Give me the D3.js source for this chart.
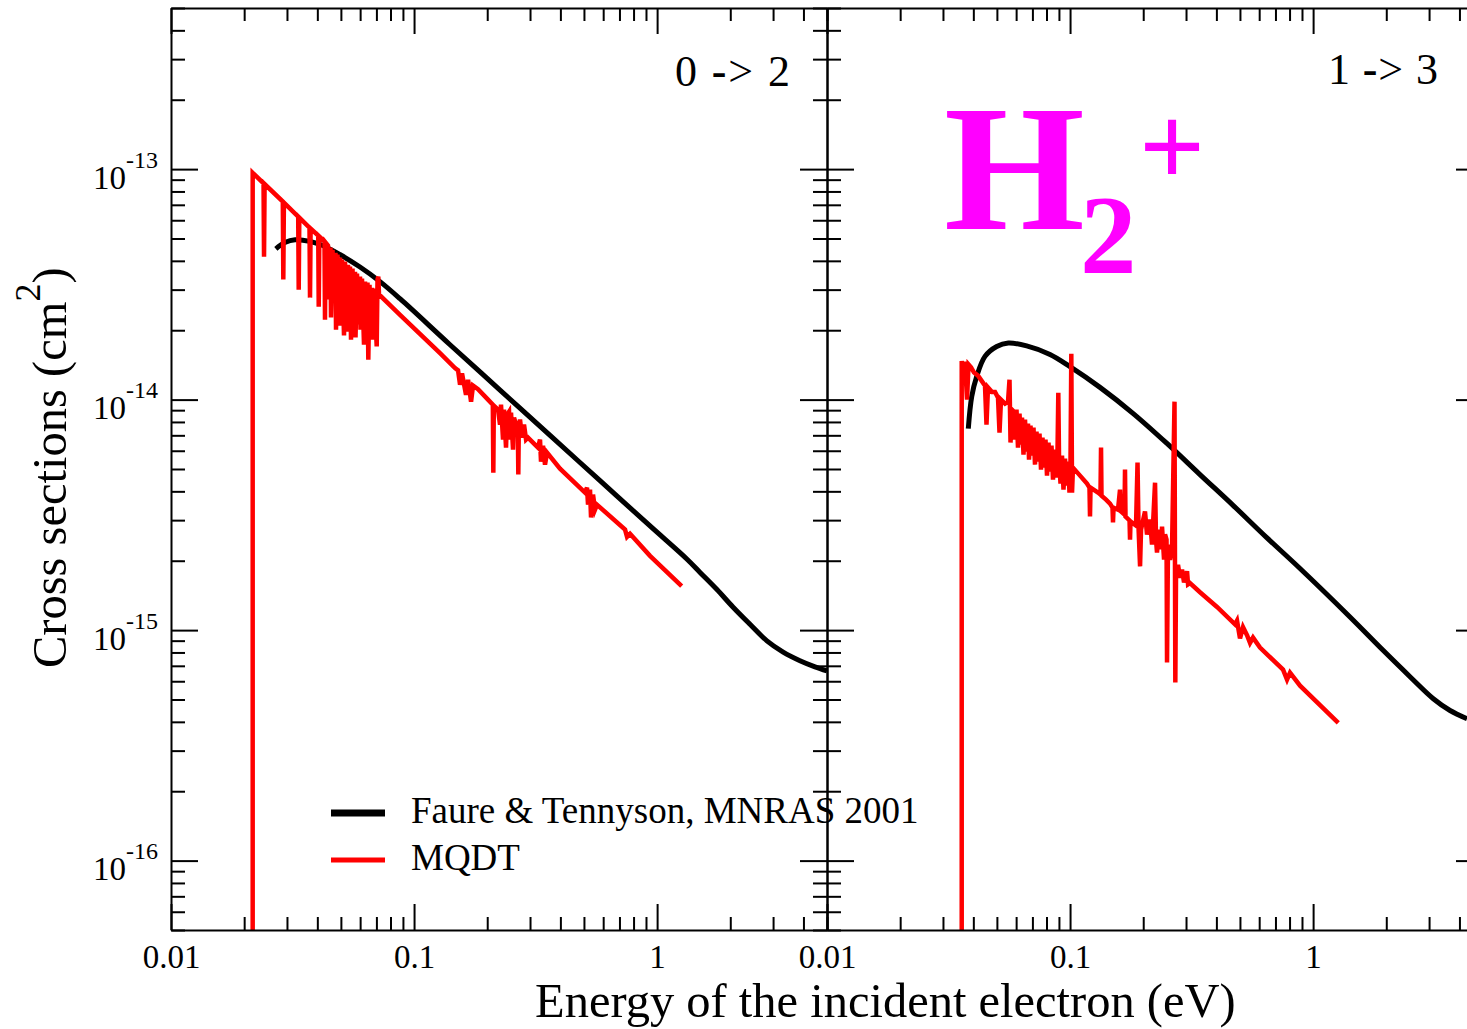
<!DOCTYPE html>
<meta charset="utf-8">
<style>
body { margin: 0; background: #fff; }
svg { display: block; background: #fff; font-family: "Liberation Serif", "Times New Roman", serif; }
.axis path, .axis line { stroke: #000; stroke-width: 2px; fill: none; }
.axis text { font-family: "Liberation Serif", serif; font-size: 33px; fill: #000; }
.curve { fill: none; stroke-linejoin: miter; }
.title { font-size: 48.5px; fill: #000; }
.legend text { font-size: 37px; fill: #000; }
</style>
<svg width="1467" height="1029"></svg>
<script src="https://d3js.org/d3.v7.min.js"></script>
<script>
// axis ranges and labels
var energyDomain = [0.01, 5];
var sigmaDomain = [5e-17, 5e-13];
var energyLabels = [0.01, 0.1, 1];
var energyLabelText = ["0.01", "0.1", "1"];
var sigmaLabels = [1e-16, 1e-15, 1e-14, 1e-13];
var sigmaLabelExp = ["-16", "-15", "-14", "-13"];
var transitions = ["0 -> 2", "1 -> 3"];
var seriesNames = ["Faure & Tennyson, MNRAS 2001", "MQDT"];

// [energy (eV), cross section (cm^2)]
var faure02 = [[0.0270,4.51e-14],[0.0294,4.80e-14],[0.0324,4.94e-14],[0.0373,4.86e-14],[0.0421,4.66e-14],
  [0.0495,4.26e-14],[0.05993,3.76e-14],[0.07243,3.25e-14],[0.08754,2.74e-14],[0.1406,1.73e-14],
  [0.2258,1.10e-14],[0.3627,6.99e-15],[0.5822,4.45e-15],[0.9350,2.83e-15],[1.328,2.03e-15],
  [1.502,1.78e-15],[1.763,1.50e-15],[2.05,1.26e-15],[2.41,1.06e-15],[2.83,8.98e-16],[3.30,8.03e-16],
  [3.87,7.37e-16],[4.463,6.93e-16],[5.0,6.65e-16]];

var mqdt02 = [[0.02168,1e-18],[0.02168,9.63e-14],
  [0.02403,8.68e-14],[0.02414,4.17e-14],[0.02427,8.61e-14],
  [0.02884,7.23e-14],[0.02898,3.32e-14],[0.02914,7.16e-14],
  [0.03337,6.22e-14],[0.03353,3.00e-14],[0.03372,6.16e-14],
  [0.03714,5.57e-14],[0.03732,2.77e-14],[0.03753,5.52e-14],
  [0.04034,5.15e-14],[0.04053,2.53e-14],[0.04076,5.10e-14],
  [0.04281,4.85e-14],[0.04301,2.22e-14],[0.04326,4.80e-14],
  [0.04425,4.66e-14],[0.04467,2.72e-14],[0.04531,4.57e-14],[0.04553,2.27e-14],[0.04618,4.47e-14],
  [0.04684,3.00e-14],[0.04751,4.34e-14],[0.04774,2.01e-14],[0.04842,4.26e-14],[0.04912,2.72e-14],
  [0.04958,4.13e-14],[0.04982,2.09e-14],[0.05053,4.05e-14],[0.05150,1.90e-14],[0.05199,3.97e-14],
  [0.05273,2.46e-14],[0.05349,3.85e-14],[0.05374,1.97e-14],[0.05451,3.78e-14],[0.05503,1.82e-14],
  [0.05582,3.70e-14],[0.05662,2.22e-14],[0.05716,3.59e-14],[0.05743,1.86e-14],[0.05825,3.52e-14],
  [0.05908,2.12e-14],[0.05993,3.42e-14],[0.06021,2.01e-14],[0.06107,3.35e-14],[0.06224,1.73e-14],
  [0.06284,3.25e-14],[0.06373,2.22e-14],[0.06434,3.22e-14],[0.06483,1.49e-14],[0.06557,3.15e-14],
  [0.06651,2.01e-14],[0.06714,3.06e-14],[0.06746,1.82e-14],[0.06842,3.03e-14],[0.06940,2.22e-14],
  [0.07020,1.70e-14],[0.07073,3.32e-14],[0.07127,3.42e-14],[0.07174,2.86e-14],
  [0.08754,2.33e-14],[0.1279,1.59e-14],[0.1474,1.37e-14],[0.1517,1.34e-14],[0.1546,1.16e-14],
  [0.1575,1.30e-14],[0.1636,1.05e-14],[0.1668,1.22e-14],[0.1716,9.80e-15],[0.1748,1.15e-14],
  [0.1833,1.11e-14],[0.2015,1.00e-14],
  [0.2109,9.51e-15],[0.2119,4.82e-15],[0.2129,9.42e-15],[0.2216,9.05e-15],[0.2258,7.79e-15],
  [0.2279,9.51e-15],[0.2323,6.71e-15],[0.2345,9.05e-15],[0.2390,6.19e-15],[0.2413,8.61e-15],
  [0.2459,8.87e-15],[0.2482,6.71e-15],[0.2506,8.78e-15],[0.2554,6.07e-15],[0.2578,8.36e-15],
  [0.2627,7.79e-15],[0.2673,7.64e-15],[0.2685,4.73e-15],[0.2698,7.56e-15],[0.2729,8.19e-15],
  [0.2781,6.84e-15],[0.2834,7.79e-15],[0.2889,6.71e-15],[0.2944,6.84e-15],
  [0.3145,6.38e-15],[0.3236,6.19e-15],[0.3298,6.71e-15],[0.3329,5.38e-15],[0.3393,6.31e-15],
  [0.3458,5.22e-15],[0.3524,5.89e-15],[0.3986,5.02e-15],
  [0.5051,3.95e-15],[0.5148,4.15e-15],[0.5197,3.50e-15],[0.5296,4.07e-15],[0.5347,3.08e-15],
  [0.5449,3.87e-15],[0.5553,3.33e-15],[0.5659,3.50e-15],
  [0.7380,2.73e-15],[0.7521,2.54e-15],[0.7738,2.62e-15],[0.9350,2.10e-15],[1.262,1.55e-15]];

var faure13 = [[0.03814,7.48e-15],[0.03939,1.03e-14],[0.04129,1.26e-14],[0.04467,1.54e-14],[0.04991,1.70e-14],
  [0.05571,1.76e-14],[0.06631,1.71e-14],[0.08270,1.57e-14],[0.09995,1.39e-14],[0.1328,1.13e-14],
  [0.1820,8.70e-15],[0.2498,6.47e-15],[0.3425,4.73e-15],[0.4696,3.47e-15],[0.6444,2.52e-15],
  [0.8834,1.85e-15],[1.418,1.14e-15],[1.945,8.15e-16],[2.504,6.28e-16],[3.123,5.04e-16],
  [3.659,4.48e-16],[4.298,4.13e-16]];

var mqdt13 = [[0.03583,1e-18],[0.03583,1.47e-14],[0.03645,1.32e-14],[0.03697,1.46e-14],[0.03768,1.00e-14],
  [0.03822,1.42e-14],[0.03913,1.38e-14],[0.04026,1.31e-14],[0.04182,1.27e-14],[0.04343,1.20e-14],
  [0.04467,1.15e-14],[0.04531,7.79e-15],[0.04596,1.13e-14],[0.04774,1.08e-14],[0.04912,1.08e-14],
  [0.05053,1.02e-14],[0.05126,7.19e-15],[0.05199,1.00e-14],[0.05400,9.61e-15],[0.05556,9.80e-15],
  [0.05635,1.22e-14],[0.05689,6.51e-15],[0.05770,9.05e-15],
  [0.05881,8.87e-15],[0.05937,6.71e-15],[0.06021,9.05e-15],[0.06107,6.19e-15],[0.06195,8.70e-15],
  [0.06284,6.38e-15],[0.06343,8.36e-15],[0.06434,5.77e-15],[0.06526,8.19e-15],[0.06619,5.95e-15],
  [0.06714,7.87e-15],[0.06778,5.49e-15],[0.06875,7.71e-15],[0.06973,5.71e-15],[0.07073,7.56e-15],
  [0.07174,5.22e-15],[0.07277,7.26e-15],[0.07381,5.38e-15],[0.07487,7.12e-15],[0.07594,4.97e-15],
  [0.07702,6.84e-15],[0.07813,5.07e-15],[0.07925,6.71e-15],[0.08038,4.68e-15],[0.08153,6.51e-15],
  [0.08270,4.87e-15],[0.08388,6.31e-15],[0.08509,4.50e-15],[0.08630,6.07e-15],[0.08754,4.59e-15],
  [0.08879,5.95e-15],[0.08947,1.07e-14],[0.09007,5.71e-15],[0.09135,4.32e-15],[0.09266,5.71e-15],
  [0.09398,4.07e-15],[0.09533,5.55e-15],[0.09669,4.24e-15],[0.09808,5.38e-15],[0.09948,3.95e-15],
  [0.1004,5.22e-15],[0.1012,1.58e-14],[0.1019,3.95e-15],[0.1028,5.07e-15],
  [0.1099,4.68e-15],[0.1174,4.32e-15],[0.1202,4.15e-15],[0.1208,3.11e-15],[0.1214,4.15e-15],
  [0.1303,3.95e-15],[0.1334,3.87e-15],[0.1341,6.19e-15],[0.1347,3.83e-15],[0.1406,3.68e-15],
  [0.1460,3.54e-15],[0.1495,3.40e-15],[0.1502,2.93e-15],[0.1510,3.40e-15],[0.1575,3.33e-15],
  [0.1605,4.07e-15],[0.1620,3.27e-15],[0.1675,3.17e-15],[0.1683,4.97e-15],[0.1691,3.11e-15],
  [0.1757,2.99e-15],[0.1765,2.47e-15],[0.1773,2.96e-15],[0.1868,2.84e-15],[0.1895,5.33e-15],
  [0.1913,2.78e-15],[0.1941,1.89e-15],[0.1959,2.73e-15],[0.2034,3.27e-15],[0.2073,2.60e-15],
  [0.2133,3.02e-15],[0.2174,2.35e-15],[0.2237,4.36e-15],[0.2258,2.47e-15],[0.2279,2.17e-15],
  [0.2323,2.73e-15],[0.2367,2.24e-15],[0.2390,2.81e-15],[0.2436,2.02e-15],[0.2459,2.60e-15],
  [0.2494,2.47e-15],[0.2506,7.23e-16],[0.2529,2.35e-15],[0.2578,2.02e-15],[0.2627,2.24e-15],
  [0.2690,9.80e-15],[0.2711,5.92e-16],[0.2729,1.74e-15],[0.2781,1.92e-15],[0.2834,1.69e-15],
  [0.2889,1.83e-15],[0.2944,1.61e-15],[0.3029,1.80e-15],[0.3058,1.58e-15],[0.3115,1.60e-15],
  [0.3425,1.46e-15],[0.4024,1.26e-15],[0.4772,1.06e-15],[0.4863,1.10e-15],[0.5003,9.20e-16],
  [0.5148,1.03e-15],[0.5347,9.50e-16],[0.5501,8.80e-16],[0.5659,9.28e-16],[0.6046,8.40e-16],
  [0.7521,6.74e-16],[0.7811,6.10e-16],[0.8036,6.54e-16],[0.8834,5.74e-16],[1.269,3.96e-16]];

var svg = d3.select("svg");
var plotTop = 8, plotBottom = 930, panelWidth = 656, firstLeft = 171;

var y = d3.scaleLog().domain(sigmaDomain).range([plotBottom, plotTop]);

var panels = [
  {left: firstLeft, faure: faure02, mqdt: mqdt02, label: transitions[0], labelStart: 675, labelLen: 115, labelBase: 86},
  {left: firstLeft + panelWidth, faure: faure13, mqdt: mqdt13, label: transitions[1], labelStart: 1328, labelLen: 110, labelBase: 84}
];

function isDecade(d) {
  var l = Math.log10(d);
  return Math.abs(l - Math.round(l)) < 1e-9;
}
function findIndex(list, d) {
  for (var k = 0; k < list.length; k++) {
    if (Math.abs(list[k] - d) / list[k] < 1e-9) return k;
  }
  return -1;
}

panels.forEach(function(p, i) {
  var right = p.left + panelWidth;
  var x = d3.scaleLog().domain(energyDomain).range([p.left, right]);

  svg.append("clipPath").attr("id", "clip" + i)
    .append("rect")
    .attr("x", p.left).attr("y", plotTop)
    .attr("width", panelWidth).attr("height", plotBottom - plotTop);

  var lineLin = d3.line()
    .x(function(d) { return x(d[0]); })
    .y(function(d) { return y(d[1]); });
  var lineSmooth = d3.line()
    .curve(d3.curveCatmullRom.alpha(0.5))
    .x(function(d) { return x(d[0]); })
    .y(function(d) { return y(d[1]); });

  var g = svg.append("g").attr("clip-path", "url(#clip" + i + ")");
  g.append("path").datum(p.faure)
    .attr("class", "curve")
    .attr("stroke", "#000")
    .attr("stroke-width", 5)
    .attr("d", lineSmooth);
  g.append("path").datum(p.mqdt)
    .attr("class", "curve")
    .attr("stroke", "#ff0000")
    .attr("stroke-width", 4.5)
    .attr("d", lineLin);

  var xt = x.ticks();
  var yt = y.ticks();

  var bottomAxis = svg.append("g").attr("class", "axis")
    .attr("transform", "translate(0," + plotBottom + ")")
    .call(d3.axisBottom(x).tickValues(xt).tickSizeInner(-13).tickSizeOuter(0).tickPadding(15)
      .tickFormat(function(d) {
        var k = findIndex(energyLabels, d);
        return k >= 0 ? energyLabelText[k] : "";
      }));
  bottomAxis.selectAll(".tick").filter(isDecade).select("line").attr("y2", -26);

  var topAxis = svg.append("g").attr("class", "axis")
    .attr("transform", "translate(0," + plotTop + ")")
    .call(d3.axisTop(x).tickValues(xt).tickSizeInner(-13).tickSizeOuter(0).tickFormat(""));
  topAxis.selectAll(".tick").filter(isDecade).select("line").attr("y2", 26);

  var leftAxis = svg.append("g").attr("class", "axis")
    .attr("transform", "translate(" + p.left + ",0)")
    .call(d3.axisLeft(y).tickValues(yt).tickSizeInner(-14).tickSizeOuter(0).tickFormat(""));
  leftAxis.selectAll(".tick").filter(isDecade).select("line").attr("x2", 27);

  var rightAxis = svg.append("g").attr("class", "axis")
    .attr("transform", "translate(" + right + ",0)")
    .call(d3.axisRight(y).tickValues(yt).tickSizeInner(-14).tickSizeOuter(0).tickFormat(""));
  rightAxis.selectAll(".tick").filter(isDecade).select("line").attr("x2", -27);

  if (i === 0) {
    leftAxis.selectAll(".tick").filter(function(d) { return findIndex(sigmaLabels, d) >= 0; })
      .each(function(d) {
        var t = d3.select(this).append("text")
          .attr("x", -13).attr("y", 19)
          .attr("text-anchor", "end");
        t.append("tspan").text("10");
        t.append("tspan").attr("dy", -21).style("font-size", "24px")
          .text(sigmaLabelExp[findIndex(sigmaLabels, d)]);
      });
  }

  // transition label, the dash is drawn heavier like in the original
  var parts = p.label.split("-");
  var lab = svg.append("text")
    .attr("x", p.labelStart).attr("y", p.labelBase)
    .attr("textLength", p.labelLen).attr("lengthAdjust", "spacing")
    .style("font-size", "44px");
  lab.append("tspan").text(parts[0]);
  lab.append("tspan").style("font-weight", "bold").text("-");
  lab.append("tspan").text(parts[1]);
});

// axis titles
svg.append("text").attr("class", "title")
  .attr("x", 535).attr("y", 1017)
  .text("Energy of the incident electron (eV)");

var ytitle = svg.append("text").attr("class", "title")
  .attr("transform", "translate(66,668) rotate(-90)");
ytitle.append("tspan").text("Cross sections (cm");
ytitle.append("tspan").attr("dy", -26).style("font-size", "36px").text("2");
ytitle.append("tspan").attr("dy", 26).text(")");

// legend
var legendColors = ["#000", "#ff0000"];
var legendWidths = [7, 5];
var legend = svg.append("g").attr("class", "legend");
seriesNames.forEach(function(name, k) {
  var ly = 813 + k * 47;
  legend.append("line")
    .attr("x1", 331).attr("x2", 385).attr("y1", ly).attr("y2", ly)
    .attr("stroke", legendColors[k]).attr("stroke-width", legendWidths[k]);
  legend.append("text").attr("x", 411).attr("y", ly + 10).text(name);
});

// molecule label
var formula = svg.append("g").attr("fill", "#ff00ff").style("font-weight", "bold");
formula.append("text").attr("x", 944).attr("y", 229).style("font-size", "181px").text("H");
formula.append("text").attr("x", 1080).attr("y", 273).style("font-size", "113px").text("2");
formula.append("text").attr("x", 1139).attr("y", 186).style("font-size", "116px").text("+");
</script>
